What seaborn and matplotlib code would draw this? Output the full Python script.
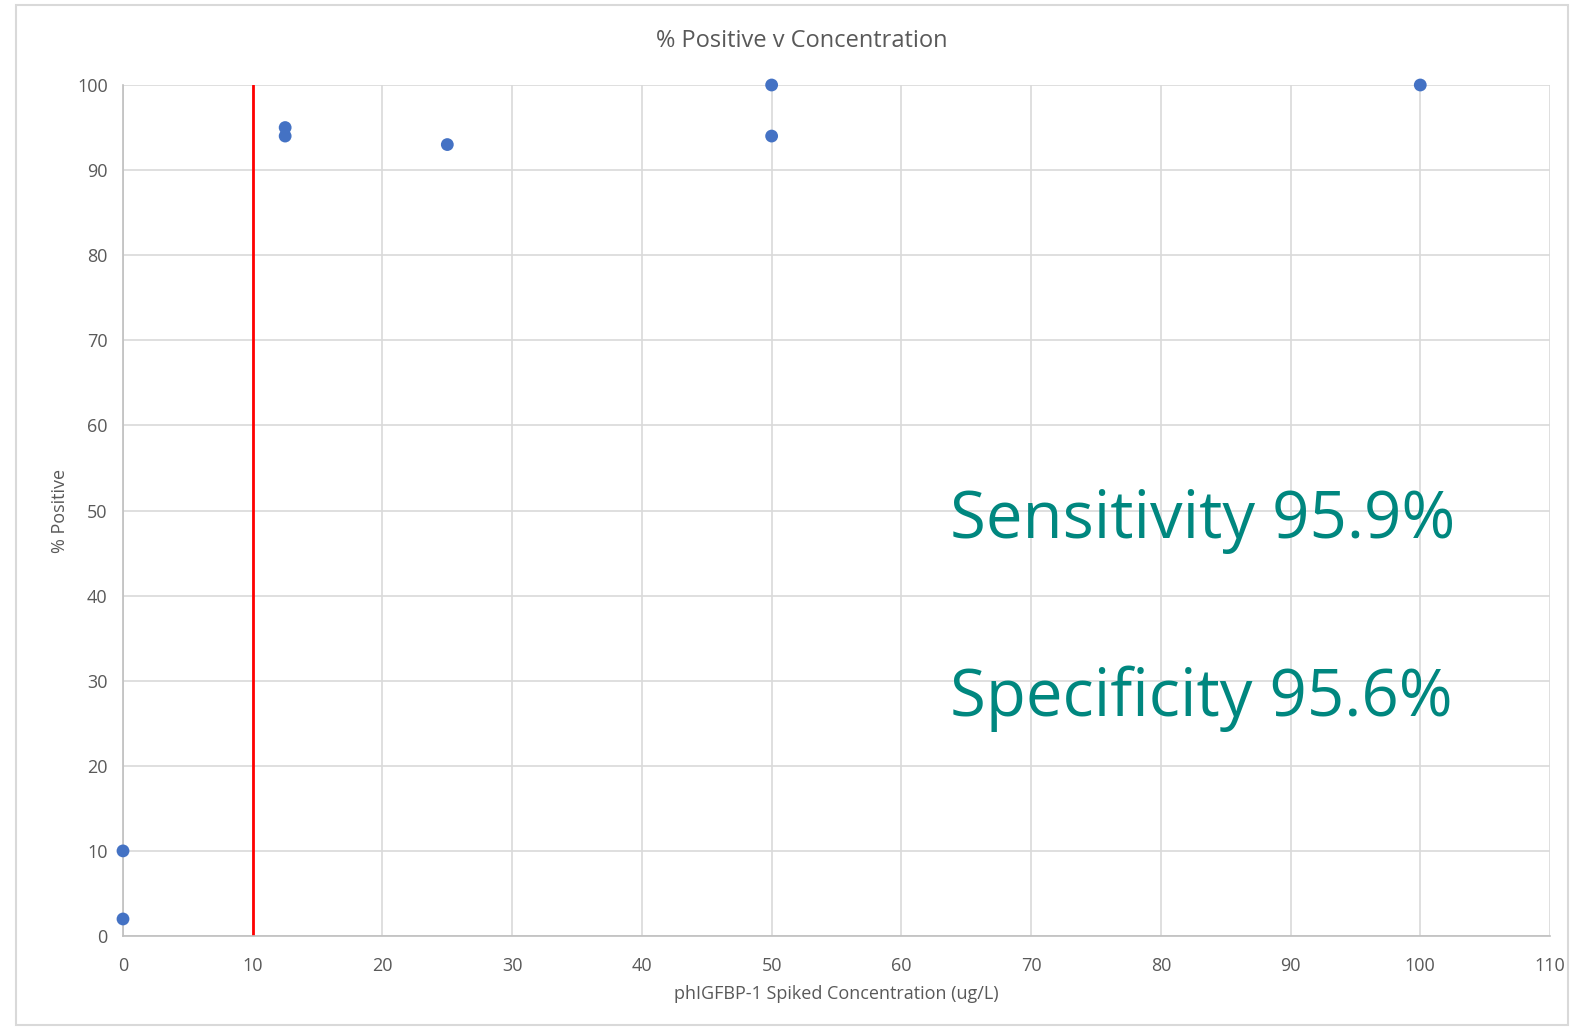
import matplotlib
matplotlib.use("Agg")
import matplotlib.pyplot as plt
import seaborn as sns
import pandas as pd
from matplotlib.patches import Rectangle

concentration = [0, 0, 12.5, 12.5, 25, 50, 50, 100]
pct_positive = [10, 2, 95, 94, 93, 100, 94, 100]
cutoff = 10
x_ticks = list(range(0, 111, 10))
y_ticks = list(range(0, 101, 10))
title = "% Positive v Concentration"
x_label = "phIGFBP-1 Spiked Concentration (ug/L)"
y_label = "% Positive"
sensitivity_text = "Sensitivity 95.9%"
specificity_text = "Specificity 95.6%"

df = pd.DataFrame({"conc": concentration, "pos": pct_positive})

sns.set_theme(style="white")
plt.rcParams["font.family"] = ["Open Sans", "DejaVu Sans"]

W, H = 1573, 1030
fig = plt.figure(figsize=(W / 100, H / 100), dpi=100)
ax = fig.add_axes([123 / W, 1 - 936 / H, (1550 - 123) / W, (936 - 85) / H])

# outer chart frame
fig.patches.append(Rectangle((16 / W, 1 - 1025 / H), (1568 - 16) / W, (1025 - 5) / H,
                             transform=fig.transFigure, fill=False,
                             edgecolor="#D9D9D9", linewidth=1.5))

ax.set_xlim(0, 110)
ax.set_ylim(0, 100)
ax.set_xticks(x_ticks)
ax.set_yticks(y_ticks)
ax.grid(True, color="#D9D9D9", linewidth=1.2)
ax.set_axisbelow(True)
for s in ["top", "right"]:
    ax.spines[s].set_visible(False)
for s in ["left", "bottom"]:
    ax.spines[s].set_color("#BFBFBF")
    ax.spines[s].set_linewidth(1.2)

ax.axvline(cutoff, color="#FF0000", linewidth=2, zorder=2)

sns.scatterplot(data=df, x="conc", y="pos", ax=ax, s=85, color="#4472C4",
                edgecolor="none", zorder=3, clip_on=False)

ax.tick_params(axis="x", length=0, labelsize=13, labelcolor="#595959", pad=15)
ax.tick_params(axis="y", length=0, labelsize=13, labelcolor="#595959", pad=11)
ax.set_xlabel(x_label, fontsize=13, color="#595959", labelpad=7)
ax.set_ylabel(y_label, fontsize=13, color="#595959", labelpad=6)

fig.text(802 / W, 1 - 41 / H, title, fontsize=17, color="#595959",
         ha="center", va="center")

ax.text(950 / W, 1 - 538 / H, sensitivity_text, transform=fig.transFigure,
        fontsize=47, color="#00877F", ha="left", va="baseline")
ax.text(950 / W, 1 - 716 / H, specificity_text, transform=fig.transFigure,
        fontsize=47, color="#00877F", ha="left", va="baseline")

fig.savefig("out.png", dpi=100, facecolor="white")
